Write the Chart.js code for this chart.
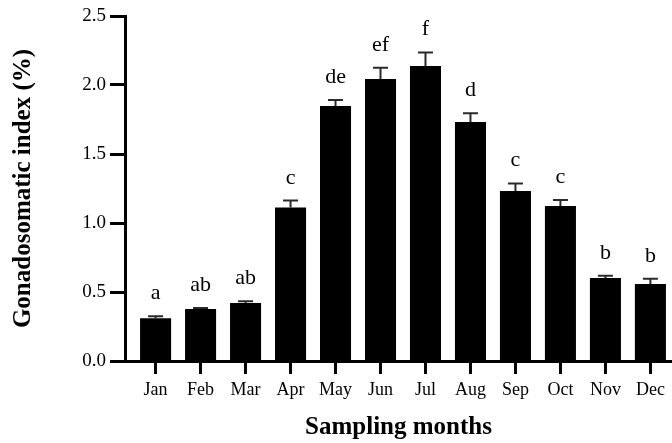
<!DOCTYPE html>
<html>
<head>
<meta charset="utf-8">
<script src="https://cdn.jsdelivr.net/npm/chart.js@4/dist/chart.umd.min.js"></script>
<style>
  html, body { margin: 0; padding: 0; background: #fff; }
  #wrap { width: 672px; height: 443px; }
</style>
</head>
<body>
<div id="wrap"><canvas id="c" width="672" height="443"></canvas></div>
<script>
// ---- data ----
const months = ["Jan","Feb","Mar","Apr","May","Jun","Jul","Aug","Sep","Oct","Nov","Dec"];
const gsiMean = [0.31, 0.377, 0.42, 1.113, 1.848, 2.043, 2.138, 1.732, 1.232, 1.123, 0.601, 0.558];
const gsiErr  = [0.015, 0.007, 0.013, 0.05, 0.043, 0.082, 0.098, 0.063, 0.055, 0.044, 0.017, 0.038];
const sigLetters = ["a","ab","ab","c","de","ef","f","d","c","c","b","b"];
const yTicks = [0, 0.5, 1.0, 1.5, 2.0, 2.5];

const SERIF = "'Liberation Serif', 'Times New Roman', serif";

const errorBarPlugin = {
  id: 'errorBars',
  afterDatasetsDraw(chart) {
    const ctx = chart.ctx;
    const xs = chart.scales.x, ys = chart.scales.y;
    ctx.save();
    gsiMean.forEach((v, i) => {
      const px = xs.getPixelForValue(i);
      const yTop = ys.getPixelForValue(v + gsiErr[i]);
      const yBar = ys.getPixelForValue(v);
      ctx.strokeStyle = '#2a2a2a';
      ctx.lineWidth = 2;
      ctx.beginPath();
      ctx.moveTo(px, yBar);
      ctx.lineTo(px, yTop);
      ctx.moveTo(px - 7.5, yTop);
      ctx.lineTo(px + 7.5, yTop);
      ctx.stroke();
      ctx.fillStyle = '#000';
      ctx.font = "22px " + SERIF;
      ctx.textAlign = 'center';
      ctx.textBaseline = 'alphabetic';
      ctx.fillText(sigLetters[i], px, yTop - 17);
    });
    ctx.restore();
  }
};

new Chart(document.getElementById('c'), {
  type: 'bar',
  data: {
    datasets: [{
      data: gsiMean.map((v, i) => ({ x: i, y: v })),
      backgroundColor: '#000',
      borderWidth: 0,
      barPercentage: 0.69,
      categoryPercentage: 1.0
    }]
  },
  options: {
    responsive: false,
    animation: false,
    layout: { padding: { left: 0, right: 0, top: 16, bottom: 0 } },
    plugins: { legend: { display: false }, tooltip: { enabled: false } },
    scales: {
      x: {
        type: 'linear',
        offset: false,
        min: -0.68,
        max: 11.48,
        afterBuildTicks: (axis) => { axis.ticks = months.map((m, i) => ({ value: i })); },
        afterFit: (scale) => { scale.height = 82; },
        ticks: {
          callback: (v) => months[v],
          color: '#000',
          font: { family: SERIF, size: 18 },
          padding: 5,
          maxRotation: 0,
          autoSkip: false
        },
        grid: { offset: false, drawOnChartArea: false, drawTicks: true, tickLength: 13, tickWidth: 3, color: '#000' },
        border: { display: true, color: '#000', width: 3 },
        title: {
          display: true,
          text: 'Sampling months',
          color: '#000',
          font: { family: SERIF, size: 25, weight: 'bold' },
          padding: { top: 0, bottom: 0 }
        }
      },
      y: {
        min: 0,
        max: 2.5,
        afterBuildTicks: (axis) => { axis.ticks = yTicks.map(v => ({ value: v })); },
        afterFit: (scale) => { scale.width = 125; },
        ticks: {
          callback: (v) => v.toFixed(1),
          color: '#000',
          font: { family: SERIF, size: 19 },
          padding: 4
        },
        grid: { drawOnChartArea: false, drawTicks: true, tickLength: 15, tickWidth: 3, color: '#000' },
        border: { display: true, color: '#000', width: 3 },
        title: {
          display: true,
          text: 'Gonadosomatic index (%)',
          color: '#000',
          font: { family: SERIF, size: 25, weight: 'bold' },
          padding: { top: 9, bottom: 0 }
        }
      }
    }
  },
  plugins: [errorBarPlugin]
});
</script>
</body>
</html>
